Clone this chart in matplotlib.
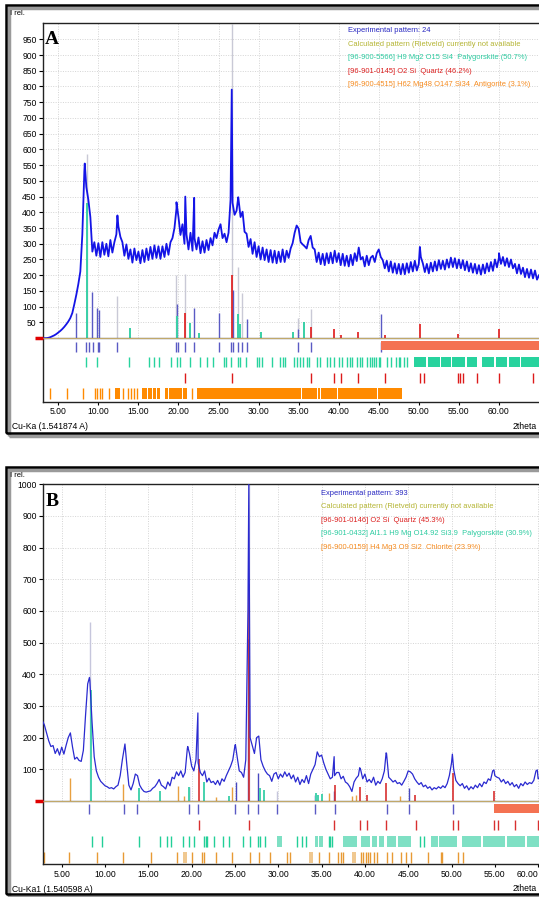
import numpy as np
import matplotlib
matplotlib.use('Agg')
import matplotlib.pyplot as plt
import matplotlib.transforms as mtransforms
from matplotlib.patches import Rectangle

plt.rcParams['font.family'] = ['Liberation Sans', 'DejaVu Sans']

W, H = 539, 897

# ---------------- panel A : sample 24 ----------------
a_start, a_step = 3.0, 0.25
a_intensity = [
    0, 0, 0, 1,
    3, 6, 9, 13,
    18, 23, 29, 36,
    44, 53, 64, 80,
    108, 138, 172, 212,
    330, 530, 480, 440,
    385, 275, 305, 262,
    302, 258, 305, 265,
    300, 260, 312, 272,
    305, 330, 355, 322,
    305, 262, 298, 252,
    282, 240, 285, 248,
    275, 238, 280, 242,
    285, 248, 290, 252,
    295, 255, 292, 252,
    292, 258, 300, 265,
    305, 318, 350, 412,
    385, 328, 362, 300,
    330, 282, 335, 278,
    318, 282, 320, 270,
    308, 272, 312, 280,
    318, 295, 335, 318,
    345, 362, 318, 332,
    305, 335, 440, 430,
    392, 405, 440, 385,
    402, 338, 332, 290,
    315, 268, 305, 258,
    292, 250, 288, 248,
    282, 242, 280, 240,
    278, 238, 275, 242,
    282, 242, 278, 255,
    285, 302, 335, 358,
    348, 305, 298, 292,
    285, 312, 325, 288,
    282, 242, 272, 235,
    268, 232, 270, 238,
    272, 238, 278, 242,
    270, 232, 268, 230,
    262, 228, 265, 232,
    270, 245, 288, 250,
    258, 228, 262, 232,
    256, 262, 242, 270,
    282, 258, 248, 222,
    246, 212, 244, 208,
    238, 205, 236, 203,
    236, 203, 238, 208,
    242, 212, 246, 215,
    236, 258, 238, 210,
    236, 206, 240, 212,
    244, 215, 248, 220,
    246, 218, 250, 224,
    256, 226, 254, 222,
    250, 222, 248, 216,
    244, 212, 238, 208,
    236, 205, 232, 202,
    234, 206, 238, 212,
    242, 214, 250, 225,
    256, 236, 258, 230,
    254, 226, 250, 222,
    236, 206, 234, 204,
    224, 194, 220, 192,
    218, 190, 215, 186,
    200,
]
a_sharp_pos = [8.3, 12.38, 19.75, 20.85, 21.96, 26.65, 27.46, 50.13, 60.0]
a_sharp_int = [555, 390, 432, 450, 446, 790, 448, 290, 270]

a_gray_pos = [8.55, 12.35, 19.75, 20.85, 26.62, 27.45, 27.95, 34.95, 36.5]
a_gray_h = [585, 135, 200, 205, 1000, 225, 143, 65, 92]
a_purple_pos = [7.25, 9.25, 9.87, 10.1, 19.8, 22.0, 25.05, 26.8, 28.6, 34.95, 45.3]
a_purple_h = [80, 147, 95, 90, 110, 95, 80, 152, 60, 30, 78]
a_teal_pos = [8.62, 13.9, 19.85, 21.45, 22.55, 27.45, 27.7, 30.3, 34.25, 35.7]
a_teal_h = [430, 32, 70, 48, 15, 77, 45, 20, 20, 50]
a_red_pos = [20.85, 26.65, 36.55, 39.45, 40.3, 42.45, 45.8, 50.13, 54.87, 60.0]
a_red_h = [80, 200, 36, 28, 10, 20, 10, 45, 12, 30]

a_row_peaks = [7.25, 8.45, 8.85, 9.3, 9.9, 10.1, 12.35, 19.75, 19.9, 20.85, 22.0,
               25.05, 26.6, 26.85, 27.45, 27.95, 28.6, 34.95, 36.5, 45.3]
a_excluded = (45.3, 70.0)
a_row_paly = [8.46, 9.88, 13.88, 16.38, 16.96, 17.55, 19.05, 19.8, 20.21, 21.46,
              22.63, 23.55, 24.3, 25.63, 25.88, 26.59, 27.38, 27.71, 28.46, 29.8,
              30.1, 30.4, 31.67, 32.7, 33.1, 33.3, 34.4, 34.8, 35.2, 35.6, 36.05,
              36.25, 37.3, 37.7, 38.55, 38.96, 39.4, 40.0, 40.4, 41.05, 41.4, 41.7,
              42.3, 42.6, 42.9, 43.55, 43.85, 44.1, 44.4, 44.7, 45.0, 45.2, 46.05,
              46.5, 47.1, 47.5, 47.7, 48.1, 48.55]
a_paly_blocks = [(49.4, 50.9), (51.1, 52.6), (52.8, 54.0), (54.2, 55.8), (56.0, 57.3),
                 (57.9, 59.4), (59.6, 61.0), (61.2, 62.6), (62.8, 65.3)]
a_row_quartz = [20.85, 26.65, 36.5, 39.4, 40.3, 42.45, 45.8, 50.15, 50.65, 54.9,
                55.2, 55.5, 57.25, 60.0, 64.2]
a_row_antig = [3.96, 6.05, 8.1, 9.6, 9.8, 10.2, 10.5, 11.3, 13.1, 13.75, 14.05,
               14.46, 14.8, 21.7]
a_antig_blocks = [(12.1, 12.7), (15.4, 15.65), (15.75, 16.05), (16.25, 16.7),
                  (16.8, 17.2), (17.3, 17.7), (18.3, 18.75), (18.85, 19.4),
                  (19.5, 19.9), (20.0, 20.5), (20.6, 21.05), (22.3, 33.0),
                  (33.1, 35.35), (35.45, 37.35), (37.45, 37.65), (37.75, 39.75),
                  (39.85, 44.75), (44.85, 47.9)]
a_xticks = [5, 10, 15, 20, 25, 30, 35, 40, 45, 50, 55, 60]

a_legend = ["Experimental pattern: 24",
            "Calculated pattern (Rietveld) currently not available",
            "[96-900-5566] H9 Mg2 O15 Si4  Palygorskite (50.7%)",
            "[96-901-0145] O2 Si  Quartz (46.2%)",
            "[96-900-4515] H62 Mg48 O147 Si34  Antigorite (3.1%)"]
a_legend_colors = ['#2626c0', '#b4b432', '#2ccba0', '#dc2020', '#f58a1e']

# ---------------- panel B : sample 393 ----------------
b_start, b_step = 2.75, 0.25
b_intensity = [
    255,
    240, 215, 190, 172,
    175, 150, 165, 145,
    170, 148, 175, 200,
    215, 170, 132, 138,
    128, 125, 160, 270,
    370, 380, 250, 140,
    95, 75, 62, 55,
    48, 45, 40, 42,
    38, 45, 50, 80,
    130, 172, 120, 50,
    35, 55, 85, 80,
    50, 38, 30, 28,
    30, 32, 40, 45,
    55, 68, 50, 45,
    38, 60, 48, 75,
    70, 92, 80, 95,
    75, 90, 165, 150,
    110, 95, 130, 120,
    90, 80, 95, 60,
    72, 58, 62, 52,
    65, 50, 70, 62,
    80, 95, 110, 130,
    175, 140, 95, 90,
    75, 130, 600, 200,
    175, 150, 200, 205,
    130, 110, 95, 85,
    80, 62, 85, 90,
    70, 85, 75, 92,
    78, 88, 70, 82,
    60, 75, 52, 68,
    58, 80, 55, 85,
    100, 115, 155, 140,
    145, 120, 100, 85,
    70, 75, 80, 90,
    90, 70, 78, 60,
    55, 45, 30, 60,
    72, 80, 100, 70,
    85, 60, 68, 58,
    75, 50, 62, 55,
    70, 95, 150, 75,
    68, 60, 65, 55,
    58, 50, 62, 75,
    95, 92, 85, 70,
    60, 52, 58, 45,
    50, 40, 45, 35,
    42, 38, 45, 40,
    48, 42, 55, 80,
    120, 100, 65, 55,
    48, 55, 40, 48,
    35, 45, 38, 50,
    42, 55, 45, 60,
    55, 70, 65, 95,
    80, 75, 72, 60,
    68, 55, 62, 50,
    58, 45, 52, 40,
    55, 48, 60, 52,
    58, 55, 65, 95,
    70, 75,
]
b_sharp_pos = [8.2, 12.3, 19.55, 20.72, 25.05, 26.6, 36.45, 39.4, 42.45, 50.1, 54.9, 59.9]
b_sharp_int = [390, 180, 172, 278, 178, 1000, 140, 105, 152, 148, 98, 98]

b_gray_pos = [8.3, 26.62, 29.9]
b_gray_h = [565, 1000, 30]
b_purple_pos = [19.7, 25.1, 26.55, 27.7, 34.25, 36.45, 45.1]
b_purple_h = [45, 60, 510, 87, 20, 30, 40]
b_teal_pos = [8.4, 13.95, 16.3, 19.75, 21.45, 24.35, 27.9, 28.4, 34.3, 34.6, 35.0]
b_teal_h = [350, 40, 30, 44, 60, 15, 42, 35, 25, 20, 22]
b_red_pos = [20.8, 26.65, 36.5, 39.45, 40.3, 42.45, 45.8, 50.13, 54.87]
b_red_h = [132, 685, 50, 45, 20, 56, 20, 89, 30]
b_orange_pos = [5.9, 12.1, 18.4, 19.1, 22.8, 24.7, 35.9, 38.5, 39.0, 44.0]
b_orange_h = [72, 55, 47, 15, 12, 45, 25, 15, 20, 15]

b_row_peaks = [8.2, 12.2, 13.7, 19.7, 20.75, 25.05, 26.55, 27.7, 29.85, 34.25,
               36.5, 42.5, 45.1, 50.15]
b_excluded = (54.95, 70.0)
b_row_quartz = [20.8, 26.6, 36.48, 39.45, 40.2, 42.48, 45.88, 50.19, 50.73, 54.95,
                55.41, 57.34, 60.03]
b_row_paly = [8.46, 9.69, 13.96, 16.35, 17.12, 17.58, 18.97, 19.73, 20.31, 21.43,
              21.6, 21.74, 22.59, 23.59, 24.36, 25.9, 26.74, 27.7, 27.9, 28.48,
              32.2, 32.7, 33.2, 35.8, 36.0, 36.2, 46.4, 46.8]
b_paly_blocks = [(29.83, 30.4), (34.25, 34.6), (34.75, 35.2), (37.45, 39.07),
                 (39.5, 40.6), (40.8, 41.4), (41.6, 42.2), (42.6, 43.6), (43.8, 45.3),
                 (47.6, 48.4), (48.6, 50.6), (51.2, 53.4), (53.6, 56.2), (56.4, 58.5),
                 (58.7, 60.2)]
b_row_chlor = [2.9, 5.88, 9.04, 12.11, 15.31, 18.35, 20.0, 21.17, 21.43, 22.82,
               24.63, 26.74, 27.82, 29.05, 31.0, 31.4, 34.75, 35.9, 36.94, 37.2,
               37.5, 39.5, 39.8, 40.1, 40.35, 40.6, 41.0, 41.4, 42.5, 43.1, 44.15,
               44.8, 45.35, 47.3, 48.8, 48.9, 50.8, 51.3]
b_chlor_blocks = [(18.97, 19.43), (33.6, 34.05), (38.55, 39.0)]
b_xticks = [5, 10, 15, 20, 25, 30, 35, 40, 45, 50, 55, 60]

b_legend = ["Experimental pattern: 393",
            "Calculated pattern (Rietveld) currently not available",
            "[96-901-0146] O2 Si  Quartz (45.3%)",
            "[96-901-0432] Al1.1 H9 Mg O14.92 Si3.9  Palygorskite (30.9%)",
            "[96-900-0159] H4 Mg3 O9 Si2  Chlorite (23.9%)"]
b_legend_colors = ['#2626c0', '#b4b432', '#dc2020', '#2ccba0', '#f58a1e']


def px_box(left, top, right, bottom):
    # pixel box -> figure fraction [l, b, w, h]
    return [left / W, 1 - bottom / H, (right - left) / W, (bottom - top) / H]


def experimental(start, step, vals, sharp_pos, sharp_int):
    x = start + step * np.arange(len(vals))
    x = np.concatenate([x, sharp_pos])
    y = np.concatenate([np.asarray(vals, float), sharp_int])
    order = np.argsort(x, kind='stable')
    return x[order], y[order]


def draw_panel(ax, xlim, ylim, xt, yticks, xy, sticks, rows, line_color, line_w):
    top = ylim[1]

    # dotted grid, only above the baseline
    for xv in range(5, 70, 5):
        ax.vlines(xv, 0, top, colors='#d4d4d4', lw=0.7, linestyles=(0, (1, 1.5)), zorder=0)
    for yv in yticks:
        ax.hlines(yv, xlim[0], xlim[1], colors='#d4d4d4', lw=0.7, linestyles=(0, (1, 1.5)), zorder=0)

    # reference sticks
    for pos, h, col, lw in sticks:
        ax.vlines(pos, 0, h, colors=col, lw=lw, zorder=2)

    ax.plot(xy[0], xy[1], color=line_color, lw=line_w, zorder=3)

    # baseline + red zero marker
    ax.axhline(0, color='#6b6b6b', lw=1.0, zorder=4)
    ax.axhline(1.5, color='#d2b46a', lw=0.6, zorder=4)
    trans = mtransforms.blended_transform_factory(ax.transAxes, ax.transData)
    ax.plot([-0.016, 0.0], [0, 0], transform=trans, color='#e00000', lw=2.5,
            clip_on=False, solid_capstyle='butt', zorder=5)

    # marker rows under the pattern
    for kind, data, y0, y1, col in rows:
        if kind == 'ticks':
            ax.vlines(data, y0, y1, colors=col, lw=1.0, zorder=2)
        else:
            ax.broken_barh([(s, e - s) for s, e in data], (y0, y1 - y0),
                           facecolors=col, edgecolors='none', zorder=2)

    ax.set_yticks(yticks)
    ax.set_yticklabels([str(v) for v in yticks])
    ax.set_xticks(xt)
    labels = ax.set_xticklabels([f'{v:.2f}' for v in xt])
    if xt[-1] > xlim[1] - 0.5:
        labels[-1].set_horizontalalignment('right')
    ax.set_xlim(*xlim)
    ax.set_ylim(*ylim)
    ax.tick_params(axis='y', direction='out', length=3, width=0.8, pad=1.5, labelsize=6.2)
    ax.tick_params(axis='x', direction='out', length=2, width=0.8, pad=2, labelsize=6.2)
    ax.spines['right'].set_visible(False)
    for s in ['left', 'top', 'bottom']:
        ax.spines[s].set_linewidth(1.0)
        ax.spines[s].set_color('#222222')


def frame(fig, top, bottom):
    shadow = Rectangle((9 / W, 1 - (bottom + 3) / H), 560 / W, (bottom - top) / H,
                       transform=fig.transFigure, fill=False, lw=2.5, ec='#9a9a9a', zorder=0)
    box = Rectangle((6 / W, 1 - bottom / H), 560 / W, (bottom - top) / H,
                    transform=fig.transFigure, fill=False, lw=1.8, ec='black', zorder=1)
    fig.add_artist(shadow)
    fig.add_artist(box)


def main():
    fig = plt.figure(figsize=(W / 100, H / 100), dpi=100)
    frame(fig, 5, 433)
    frame(fig, 467, 894)

    # ---- A ----
    axA = fig.add_axes(px_box(43, 22.6, 539, 401.7))
    xyA = experimental(a_start, a_step, a_intensity, a_sharp_pos, a_sharp_int)
    sticksA = [(a_gray_pos, a_gray_h, '#c9c9d6', 1.0),
               (a_purple_pos, a_purple_h, '#5a5ac4', 1.0),
               (a_teal_pos, a_teal_h, '#38d0a6', 1.4),
               (a_red_pos, a_red_h, '#e01818', 1.2)]
    rowsA = [('ticks', a_row_peaks, -11, -43, '#5a5ac4'),
             ('blocks', [a_excluded], -8, -38, '#f47252'),
             ('ticks', a_row_paly, -59, -91, '#28d39e'),
             ('blocks', a_paly_blocks, -59, -91, '#28d39e'),
             ('ticks', a_row_quartz, -110, -144, '#dd1a1a'),
             ('ticks', a_row_antig, -160, -195, '#ff8a00'),
             ('blocks', a_antig_blocks, -160, -195, '#ff8a00')]
    draw_panel(axA, (3.09, 65.0), (-202, 1003), a_xticks, list(range(50, 1000, 50)),
               xyA, sticksA, rowsA, '#1414e6', 1.3)

    # ---- B ----
    axB = fig.add_axes(px_box(43, 484.3, 539, 864))
    xyB = experimental(b_start, b_step, b_intensity, b_sharp_pos, b_sharp_int)
    sticksB = [(b_gray_pos, b_gray_h, '#c6c6dc', 1.0),
               (b_purple_pos, b_purple_h, '#4848c0', 1.0),
               (b_teal_pos, b_teal_h, '#45d2ad', 1.4),
               (b_red_pos, b_red_h, '#d83030', 1.2),
               (b_orange_pos, b_orange_h, '#e8a040', 1.0)]
    rowsB = [('ticks', b_row_peaks, -9.5, -41, '#5a5ac4'),
             ('blocks', [b_excluded], -9.5, -39, '#f47252'),
             ('ticks', b_row_quartz, -60, -91, '#d83030'),
             ('blocks', b_paly_blocks, -110, -144, '#7fe0c4'),
             ('ticks', b_row_paly, -110, -144, '#22cf98'),
             ('blocks', b_chlor_blocks, -160, -195, '#f0c890'),
             ('ticks', b_row_chlor, -160, -195, '#e89a34')]
    draw_panel(axB, (2.84, 60.1), (-199, 1000), b_xticks, list(range(100, 1001, 100)),
               xyB, sticksB, rowsB, '#2a2ad0', 0.9)

    # ---- texts ----
    fs = 5.4
    for i, (txt, col) in enumerate(zip(a_legend, a_legend_colors)):
        fig.text(347.7 / W, 1 - (30.7 + 13.5 * i) / H, txt, color=col, fontsize=fs, va='center')
    for i, (txt, col) in enumerate(zip(b_legend, b_legend_colors)):
        fig.text(320.7 / W, 1 - (493.3 + 13.5 * i) / H, txt, color=col, fontsize=fs, va='center')

    fig.text(52 / W, 1 - 39 / H, 'A', family='Liberation Serif', weight='bold',
             fontsize=14, ha='center', va='center')
    fig.text(52 / W, 1 - 501 / H, 'B', family='Liberation Serif', weight='bold',
             fontsize=14, ha='center', va='center')

    fig.text(10 / W, 1 - 13.5 / H, 'I rel.', fontsize=5.5, va='center')
    fig.text(10 / W, 1 - 475 / H, 'I rel.', fontsize=5.5, va='center')
    fig.text(12 / W, 1 - 426 / H, 'Cu-Ka (1.541874 A)', fontsize=6.2, va='center')
    fig.text(12 / W, 1 - 889 / H, 'Cu-Ka1 (1.540598 A)', fontsize=6.2, va='center')
    fig.text(537 / W, 1 - 426 / H, '2theta', fontsize=6.2, va='center', ha='right')
    fig.text(537 / W, 1 - 888 / H, '2theta', fontsize=6.2, va='center', ha='right')

    fig.savefig('out.png', dpi=100)


if __name__ == '__main__':
    main()
